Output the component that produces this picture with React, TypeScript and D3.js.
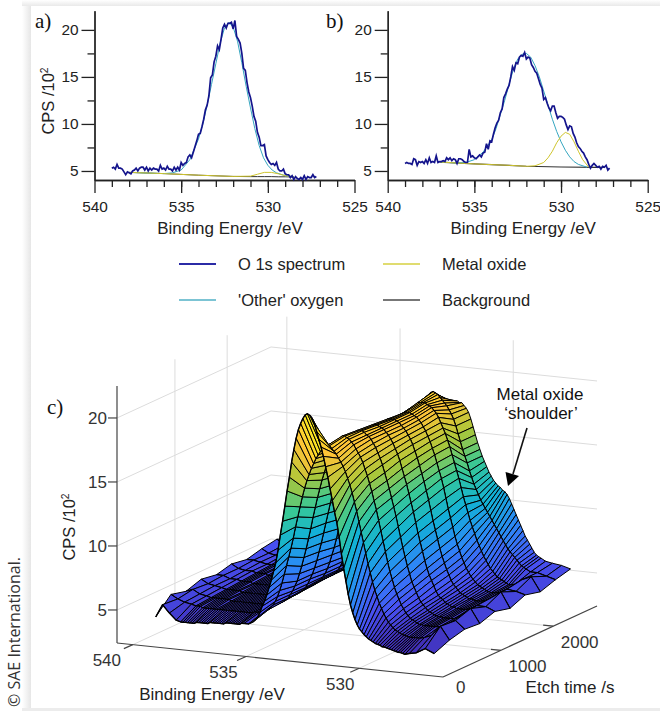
import * as d3 from "d3";
import { useEffect, useRef } from "react";

// spectra are read every 0.1 eV from 539.0 down to 527.2
const spectrumEnergy = d3.range(119).map((i) => +(539 - i * 0.1).toFixed(1));
const spectrumA = [
  5.3,5.4,5.2,5.7,5.3,5.3,5.2,4.9,4.6,4.9, 4.8,4.7,5.0,5.1,5.3,5.0,5.3,5.4,5.4,5.1,
  5.4,5.0,5.3,5.1,5.3,5.2,5.2,5.0,5.6,5.2, 5.3,5.1,5.5,5.2,5.2,5.0,5.4,5.1,5.4,5.1,
  5.9,5.6,5.8,5.9,6.5,6.7,6.4,7.0,7.6,8.2, 8.9,9.0,9.7,10.5,11.5,12.0,13.0,14.9,15.2,16.6,
  17.2,18.3,17.9,19.0,20.2,20.6,20.2,20.7,20.7,20.8, 20.1,21.0,19.3,19.0,18.6,17.5,15.9,15.7,14.4,13.4,
  12.8,11.9,10.8,10.3,9.1,8.6,7.7,7.7,7.8,6.6, 6.2,5.9,5.7,5.8,5.6,5.9,5.2,5.0,5.0,5.2,
  4.7,4.6,4.6,4.3,4.5,4.1,4.4,4.2,4.1,4.3, 4.1,4.5,4.1,4.4,4.3,4.3,4.6,4.3,4.4,
];
const spectrumB = [
  5.8,5.9,5.8,5.8,5.7,6.3,6.2,5.6,6.0,5.9, 6.0,5.8,6.2,5.8,6.4,5.9,6.0,5.9,6.6,5.9,
  6.0,6.0,6.1,6.0,6.4,6.2,6.4,6.1,6.3,6.2, 5.8,6.3,6.3,6.2,6.0,5.9,5.9,7.3,6.5,6.6,
  6.4,6.3,6.5,6.7,6.5,6.9,7.0,7.9,7.3,8.2, 8.1,8.9,9.6,10.1,10.4,11.2,11.6,12.8,13.2,13.7,
  14.1,15.0,16.1,15.7,16.5,16.4,17.1,17.3,17.2,17.6, 16.9,17.1,17.0,16.3,16.0,15.6,15.4,14.8,14.2,13.8,
  12.6,12.8,12.2,11.7,11.4,11.9,11.9,11.2,10.6,10.8, 10.8,10.7,10.5,9.9,9.4,9.8,9.7,9.0,8.6,8.0,
  7.6,7.4,7.1,6.9,6.5,6.2,5.7,5.3,5.6,5.8, 5.6,5.4,5.5,5.2,5.5,5.4,5.6,5.1,5.3,
];

const fitEnergyA = [538,537,536,535.5,535,534.5,534,533.75,533.5,533.25,533,532.75,532.5,532.25,532,531.75,531.5,531.25,531,530.75,530.5,530.25,530,529.75,529.5,529,528.5];
const otherA = [4.85,4.78,4.72,4.8,5.1,6.2,8.4,10,12,14.2,16.4,18.6,20.2,20.8,20.3,18.8,16.5,14,11.7,9.5,7.7,6.4,5.6,5.1,4.8,4.5,4.4];
const oxideEnergyA = [538,536,534,532,531,530.6,530.2,529.8,529.4,529,528.5];
const oxideA = [4.85,4.72,4.55,4.42,4.45,4.65,4.85,4.85,4.7,4.5,4.38];
const backgroundA = [4.85,4.72,4.55,4.42,4.4,4.4,4.4,4.4,4.38,4.38,4.36];

const fitEnergyB = [537,536,535.5,535,534.5,534,533.75,533.5,533.25,533,532.75,532.5,532.25,532,531.75,531.5,531.25,531,530.75,530.5,530.25,530,529.75,529.5,529.25,529,528.5];
const otherB = [5.95,5.85,5.9,6.2,7.0,8.3,9.5,11,12.5,14.2,15.8,16.9,17.4,17.5,17.1,16.2,15,13.5,12,10.5,9.2,8.1,7.2,6.5,6,5.7,5.4];
const oxideEnergyB = [537,535,533,532,531.5,531,530.75,530.5,530.25,530,529.75,529.5,529.25,529,528.75,528.4];
const oxideB = [5.95,5.75,5.6,5.5,5.55,5.9,6.4,7.1,8,8.7,9.1,8.9,8.1,7.1,6.2,5.4];
const backgroundEnergyB = [537,535,533,532,530,528,527.5];
const backgroundB = [5.95,5.75,5.6,5.5,5.42,5.38,5.38];

const legendItems = [
  { label: "O 1s spectrum", color: "#2b2ba6", col: 0, row: 0 },
  { label: "Metal oxide", color: "#e0dc70", col: 1, row: 0 },
  { label: "'Other' oxygen", color: "#7cc4d4", col: 0, row: 1 },
  { label: "Background", color: "#777777", col: 1, row: 1 },
];

// surface mesh: one profile per etch level, one value per energy column
const etchRows = [0, 290, 580, 870, 1160, 1450, 1740, 2030, 2320, 2610];
const beColumns = [
  539.0,538.7,538.4,538.1,
  537.9,537.8,537.7,537.6,537.5,537.4,537.3,537.2,537.1,537.0,
  536.9,536.8,536.7,536.6,536.5,536.4,536.3,536.2,536.1,536.0,
  535.9,535.8,535.7,535.6,535.5,535.4,535.3,535.2,535.1,
  534.9,534.7,534.5,
  534.4,534.3,534.2,534.1,534.0,
  533.9,533.8,533.7,533.6,533.5,533.4,533.3,533.2,533.1,533.0,
  532.9,532.8,532.7,532.6,532.5,532.4,532.3,532.2,532.1,532.0,
  531.9,531.8,531.7,531.6,531.5,531.4,531.3,531.2,531.1,531.0,
  530.9,530.8,530.7,530.6,530.5,530.4,530.3,530.2,530.1,530.0,
  529.9,529.8,529.7,529.6,529.5,529.4,529.3,529.2,529.1,529.0,
  528.9,528.8,528.7,528.6,528.5,528.4,528.3,528.2,528.1,528.0,
  527.8,527.5,527.1,526.7,
];
const etch0 = [
  4.8,5.8,5.2,4.7,
  4.6,4.6,4.6,4.6,4.6,4.6,4.6,4.7,4.7,4.7,4.7,4.7,4.7,4.8,4.8,4.8,4.8,4.8,4.8,4.8,4.9,4.9,4.9,4.9,4.9,4.9,4.9,5.0,5.0,
  5.0,5.2,5.6,
  6.0,6.5,6.9,7.4,8.0,
  8.6,9.3,10.0,11.0,12.2,13.3,14.5,15.7,16.8,18.0,
  19.0,19.9,20.6,21.1,21.5,21.8,21.9,21.8,21.6,21.2,
  20.6,20.0,19.4,18.7,17.9,17.1,16.2,15.3,14.4,13.6,
  12.5,11.2,10.1,9.1,8.1,7.3,6.7,6.2,5.8,5.5,
  5.3,5.1,4.95,4.8,4.7,4.6,4.5,4.45,4.4,4.3,
  4.3,4.25,4.2,4.15,4.1,4.05,4.0,4.0,3.95,3.9,
  4.0,4.1,4.5,4.2,
];
const etch290 = [
  6.0,5.7,5.5,5.4,
  5.3,5.3,5.3,5.2,5.2,5.2,5.2,5.2,5.2,5.2,5.2,5.2,5.2,5.2,5.2,5.2,5.2,5.2,5.2,5.2,5.2,5.2,5.2,5.2,5.2,5.2,5.3,5.3,5.3,
  5.4,5.6,6.0,
  6.3,6.7,7.2,7.8,8.5,
  9.2,9.9,10.6,11.4,12.3,13.1,13.9,14.7,15.4,16.0,
  16.5,17.0,17.4,17.8,18.1,18.4,18.6,18.8,18.9,18.9,
  18.7,18.5,18.3,18.0,17.7,17.4,17.0,16.5,16.0,15.4,
  14.7,14.0,13.2,12.4,11.6,10.8,10.0,9.3,8.6,8.0,
  7.5,7.0,6.6,6.2,5.9,5.6,5.4,5.2,5.05,4.95,
  4.85,4.75,4.7,4.65,4.6,4.6,4.6,4.6,4.6,4.6,
  4.7,4.9,5.7,4.7,
];
const etch580 = [
  5.7,5.9,5.6,5.5,
  5.4,5.4,5.4,5.4,5.4,5.4,5.4,5.4,5.4,5.3,5.3,5.3,5.3,5.3,5.3,5.3,5.3,5.3,5.3,5.3,5.3,5.3,5.3,5.3,5.3,5.3,5.4,5.4,5.4,
  5.5,5.7,6.0,
  6.3,6.6,7.0,7.4,8.0,
  8.6,9.3,10.0,10.8,11.6,12.5,13.3,14.1,14.8,15.5,
  16.1,16.7,17.2,17.6,18.0,18.4,18.7,18.9,19.1,19.1,
  19.0,18.9,18.7,18.5,18.2,17.9,17.6,17.2,16.7,16.2,
  15.6,15.0,14.3,13.6,12.8,12.0,11.2,10.4,9.6,8.9,
  8.3,7.7,7.2,6.8,6.4,6.1,5.8,5.6,5.4,5.3,
  5.2,5.1,5.0,5.0,4.95,4.95,4.95,4.95,4.95,4.95,
  5.0,5.2,5.6,5.0,
];
const etch870 = [
  6.1,5.8,5.7,5.6,
  5.5,5.5,5.5,5.5,5.5,5.5,5.5,5.4,5.4,5.4,5.4,5.4,5.4,5.4,5.4,5.4,5.4,5.4,5.4,5.4,5.4,5.4,5.4,5.4,5.4,5.4,5.5,5.5,5.5,
  5.6,5.8,6.1,
  6.3,6.6,7.0,7.4,7.9,
  8.5,9.2,9.9,10.7,11.5,12.3,13.1,13.9,14.6,15.3,
  15.9,16.5,17.0,17.5,17.9,18.3,18.6,18.8,19.0,19.0,
  19.0,18.9,18.7,18.6,18.4,18.1,17.8,17.4,17.0,16.5,
  15.9,15.3,14.7,14.0,13.3,12.6,11.8,11.0,10.2,9.5,
  8.8,8.2,7.6,7.2,6.8,6.4,6.1,5.9,5.7,5.5,
  5.4,5.3,5.2,5.15,5.1,5.1,5.05,5.05,5.05,5.05,
  5.1,5.4,6.0,4.9,
];
const etch1160 = [
  5.9,5.9,5.7,5.7,
  5.6,5.6,5.6,5.6,5.6,5.5,5.5,5.5,5.5,5.5,5.5,5.5,5.5,5.5,5.5,5.5,5.5,5.5,5.5,5.5,5.5,5.5,5.5,5.5,5.5,5.5,5.6,5.6,5.6,
  5.7,5.9,6.2,
  6.4,6.6,6.9,7.3,7.8,
  8.4,9.0,9.7,10.5,11.3,12.1,12.9,13.7,14.4,15.1,
  15.7,16.3,16.9,17.4,17.8,18.2,18.5,18.7,18.9,18.9,
  18.9,18.8,18.7,18.6,18.4,18.2,17.9,17.6,17.2,16.8,
  16.3,15.7,15.1,14.5,13.8,13.1,12.4,11.6,10.8,10.1,
  9.4,8.7,8.1,7.6,7.2,6.8,6.4,6.1,5.9,5.8,
  5.6,5.5,5.4,5.3,5.3,5.2,5.2,5.2,5.2,5.2,
  5.3,5.6,5.6,5.3,
];
const etch1450 = [
  6.2,5.9,5.8,5.8,
  5.7,5.7,5.7,5.7,5.7,5.6,5.6,5.6,5.6,5.6,5.6,5.6,5.6,5.6,5.6,5.6,5.6,5.6,5.6,5.6,5.6,5.6,5.6,5.6,5.6,5.6,5.7,5.7,5.7,
  5.8,6.0,6.2,
  6.4,6.6,6.9,7.3,7.7,
  8.3,8.9,9.6,10.4,11.2,12.0,12.8,13.6,14.3,15.0,
  15.6,16.2,16.8,17.3,17.7,18.1,18.4,18.6,18.8,18.8,
  18.8,18.8,18.7,18.6,18.4,18.2,18.0,17.7,17.4,17.0,
  16.5,16.0,15.4,14.8,14.2,13.5,12.8,12.0,11.2,10.5,
  9.8,9.1,8.5,8.0,7.5,7.1,6.7,6.4,6.2,6.0,
  5.8,5.7,5.6,5.5,5.4,5.4,5.35,5.3,5.3,5.3,
  5.4,5.7,6.2,5.0,
];
const etch1740 = [
  6.0,6.0,5.9,5.8,
  5.8,5.8,5.8,5.7,5.7,5.7,5.7,5.7,5.7,5.7,5.7,5.7,5.7,5.7,5.7,5.7,5.7,5.7,5.7,5.7,5.7,5.7,5.7,5.7,5.7,5.7,5.8,5.8,5.8,
  5.9,6.0,6.3,
  6.4,6.6,6.9,7.2,7.6,
  8.1,8.7,9.4,10.2,11.0,11.8,12.6,13.4,14.2,14.9,
  15.6,16.2,16.8,17.3,17.7,18.1,18.4,18.6,18.7,18.8,
  18.8,18.8,18.7,18.6,18.5,18.3,18.1,17.8,17.5,17.1,
  16.7,16.2,15.7,15.1,14.5,13.9,13.2,12.4,11.6,10.9,
  10.2,9.5,8.9,8.4,7.9,7.5,7.1,6.8,6.5,6.3,
  6.1,5.9,5.8,5.7,5.6,5.5,5.45,5.4,5.4,5.4,
  5.5,5.8,5.7,5.5,
];
const etch2030 = [
  6.3,6.0,5.9,5.9,
  5.9,5.9,5.9,5.8,5.8,5.8,5.8,5.8,5.8,5.8,5.8,5.8,5.8,5.8,5.8,5.8,5.8,5.8,5.8,5.8,5.8,5.8,5.8,5.8,5.8,5.8,5.9,5.9,5.9,
  6.0,6.1,6.3,
  6.5,6.7,6.9,7.2,7.6,
  8.1,8.7,9.4,10.2,11.1,11.9,12.8,13.6,14.4,15.1,
  15.8,16.4,17.0,17.5,17.9,18.3,18.6,18.8,19.0,19.0,
  19.0,19.0,18.9,18.8,18.7,18.5,18.3,18.0,17.6,17.2,
  16.8,16.3,15.8,15.2,14.6,14.0,13.4,12.7,12.0,11.4,
  10.8,10.2,9.7,9.2,8.7,8.3,7.9,7.5,7.2,6.9,
  6.6,6.4,6.2,6.0,5.9,5.8,5.7,5.6,5.5,5.5,
  5.6,6.0,6.3,5.2,
];
const etch2320 = [
  6.5,6.1,6.0,6.0,
  6.0,5.9,5.9,5.9,5.9,5.9,5.9,5.9,5.9,5.9,5.9,5.9,5.9,5.9,5.9,5.9,5.9,5.9,5.9,5.9,5.9,5.9,5.9,5.9,5.9,5.9,6.0,6.0,6.0,
  6.1,6.2,6.4,
  6.6,6.8,7.0,7.3,7.7,
  8.2,8.8,9.6,10.4,11.3,12.2,13.0,13.9,14.7,15.4,
  16.1,16.8,17.4,17.9,18.4,18.7,19.0,19.2,19.3,19.2,
  19.1,18.9,18.7,18.5,18.3,18.0,17.7,17.3,16.8,16.2,
  15.6,15.0,14.5,14.0,13.4,12.9,12.4,12.0,11.6,11.2,
  10.9,10.6,10.3,10.0,9.7,9.4,9.1,8.8,8.5,8.2,
  7.9,7.6,7.4,7.2,7.0,6.8,6.6,6.4,6.3,6.2,
  6.0,6.0,5.8,5.6,
];
const etch2610 = [
  6.0,6.1,6.0,6.0,
  6.1,6.1,6.0,6.0,6.1,6.1,6.1,6.1,6.0,6.0,6.1,6.1,6.2,6.2,6.1,6.1,6.1,6.1,6.0,6.0,6.0,6.0,6.0,6.1,6.1,6.2,6.3,6.4,6.5,
  6.6,6.8,7.1,
  7.3,7.5,7.7,8.0,8.4,
  8.9,9.5,10.2,10.9,11.6,12.2,12.8,13.4,14.0,14.6,
  15.1,15.6,16.0,16.4,16.8,17.1,17.4,17.6,17.8,18.0,
  18.0,18.1,18.1,18.0,18.0,17.8,17.6,17.3,16.8,16.2,
  15.6,15.0,14.5,14.0,13.6,13.2,12.8,12.5,12.2,12.0,
  11.8,11.7,11.5,11.4,11.2,10.9,10.5,10.1,9.7,9.3,
  8.9,8.5,8.1,7.8,7.5,7.2,6.9,6.7,6.6,6.5,
  6.3,6.2,6.1,5.9,
];
const surfaceRows = [etch0, etch290, etch580, etch870, etch1160, etch1450, etch1740, etch2030, etch2320, etch2610];

const zTicks = [5, 10, 15, 20];
const beTicks = [540, 535, 530];
const etchTicks = [0, 1000, 2000];
const parula = ["#3e26a8", "#4852f4", "#2d87f7", "#12b1d6", "#37c897", "#abc739", "#fec338", "#f9fb15"];

const sans = "Liberation Sans";
const inkText = "#222";

// draws one of the two small spectra
function drawPanel(svg: any, left: number, spectrum: number[], fits: { be: number[]; cps: number[]; color: string; width: number }[]) {
  const x = d3.scaleLinear().domain([540, 525]).range([left, left + 260]);
  const y = d3.scaleLinear().domain([4.04, 22.04]).range([180, 10.7]);
  const g = svg.append("g");

  const axisStyle = (a: any) => {
    a.selectAll("path,line").attr("stroke", "#222").attr("stroke-width", 1.3);
    a.selectAll("text").attr("fill", inkText).style("font", `15.4px '${sans}'`);
  };

  g.append("g").attr("transform", "translate(0,180)")
    .call(d3.axisBottom(x).tickValues(d3.range(539, 525, -1)).tickSize(7).tickFormat(() => "").tickSizeOuter(0))
    .call(axisStyle);
  g.append("g").attr("transform", "translate(0,180)")
    .call(d3.axisBottom(x).tickValues([540, 535, 530, 525]).tickSize(13).tickPadding(8).tickSizeOuter(0))
    .call(axisStyle);
  g.append("g").attr("transform", `translate(${left},0)`)
    .call(d3.axisLeft(y).tickValues([7.5, 12.5, 17.5]).tickSize(7).tickFormat(() => "").tickSizeOuter(0))
    .call(axisStyle);
  g.append("g").attr("transform", `translate(${left},0)`)
    .call(d3.axisLeft(y).tickValues(zTicks).tickSize(13).tickPadding(3).tickSizeOuter(0))
    .call(axisStyle);

  const line = d3.line<number>().x((_, i) => 0).y(() => 0);
  fits.forEach((f) => {
    line.x((_, i) => x(f.be[i])).y((d) => y(d));
    g.append("path").attr("d", line(f.cps)).attr("fill", "none").attr("stroke", f.color).attr("stroke-width", f.width);
  });
  line.x((_, i) => x(spectrumEnergy[i])).y((d) => y(d));
  g.append("path").attr("d", line(spectrum)).attr("fill", "none").attr("stroke", "#14148c").attr("stroke-width", 1.7);

  g.append("text").attr("x", left + 135.5).attr("y", 234).attr("text-anchor", "middle")
    .attr("fill", inkText).style("font", `17px '${sans}'`).text("Binding Energy /eV");
}

export default function App() {
  const ref = useRef<SVGSVGElement>(null);

  useEffect(() => {
    const svg = d3.select(ref.current);
    svg.selectAll("*").remove();

    // page frame around the figure
    const defs = svg.append("defs");
    const leftShade = defs.append("linearGradient").attr("id", "leftShade");
    leftShade.append("stop").attr("offset", "0").attr("stop-color", "#fff");
    leftShade.append("stop").attr("offset", "1").attr("stop-color", "#e6e6e6");
    const topShade = defs.append("linearGradient").attr("id", "topShade").attr("x2", 0).attr("y2", 1);
    topShade.append("stop").attr("offset", "0").attr("stop-color", "#fff");
    topShade.append("stop").attr("offset", "1").attr("stop-color", "#e9e9e9");
    svg.append("rect").attr("width", 660).attr("height", 711).attr("fill", "#fff");
    svg.append("rect").attr("x", 22).attr("y", 0).attr("width", 9).attr("height", 711).attr("fill", "url(#leftShade)");
    svg.append("rect").attr("x", 22).attr("y", 0).attr("width", 638).attr("height", 6).attr("fill", "url(#topShade)");
    svg.append("rect").attr("x", 22).attr("y", 708).attr("width", 638).attr("height", 3).attr("fill", "#ececec");

    drawPanel(svg, 94.5, spectrumA, [
      { be: oxideEnergyA, cps: backgroundA, color: "#333", width: 1 },
      { be: fitEnergyA, cps: otherA, color: "#35a6c0", width: 1 },
      { be: oxideEnergyA, cps: oxideA, color: "#cfc52e", width: 1 },
    ]);
    drawPanel(svg, 387.7, spectrumB, [
      { be: backgroundEnergyB, cps: backgroundB, color: "#333", width: 1.2 },
      { be: fitEnergyB, cps: otherB, color: "#35a6c0", width: 1 },
      { be: oxideEnergyB, cps: oxideB, color: "#cfc52e", width: 1 },
    ]);

    const serifLabel = (x: number, y: number, t: string) =>
      svg.append("text").attr("x", x).attr("y", y).attr("fill", "#111")
        .style("font", "21px 'Liberation Serif'").text(t);
    serifLabel(35, 28, "a)");
    serifLabel(326, 28, "b)");
    serifLabel(47, 414, "c)");

    const cpsLabel = (x: number, y: number, size: number) => {
      const t = svg.append("text").attr("transform", `translate(${x},${y}) rotate(-90)`)
        .attr("text-anchor", "middle").attr("fill", inkText).style("font", `${size}px '${sans}'`);
      t.append("tspan").text("CPS /10");
      t.append("tspan").attr("dy", -6).style("font-size", `${size * 0.62}px`).text("2");
    };
    cpsLabel(54, 101, 16.5);

    // legend
    legendItems.forEach((d) => {
      const lx = d.col === 0 ? 179 : 383;
      const ly = d.row === 0 ? 264 : 300;
      svg.append("line").attr("x1", lx).attr("x2", lx + 37).attr("y1", ly).attr("y2", ly)
        .attr("stroke", d.color).attr("stroke-width", d.row === 0 && d.col === 0 ? 2 : 1.8);
      svg.append("text").attr("x", d.col === 0 ? 238 : 442).attr("y", ly + 6).attr("fill", inkText)
        .style("font", `16.5px '${sans}'`).text(d.label);
    });

    // 3D box: the three axes meet their scales here, project() adds them up
    const beX = d3.scaleLinear().domain([540.7, 526.3]).range([0, 326]);
    const beY = d3.scaleLinear().domain([540.7, 526.3]).range([0, 34]);
    const etchX = d3.scaleLinear().domain([-110, 2840]).range([0, 154]);
    const etchY = d3.scaleLinear().domain([-110, 2840]).range([0, -71]);
    const cpsY = d3.scaleLinear().domain([2.42, 22.42]).range([0, -256]);
    const project = (be: number, t: number, z: number): [number, number] => [
      117 + beX(be) + etchX(t),
      643 + beY(be) + etchY(t) + cpsY(z),
    ];

    const beMax = 540.7, beMin = 526.3, tMin = -110, tMax = 2840, zMin = 2.42, zTop = 22.5;
    const grid = svg.append("g").attr("fill", "none").attr("stroke", "#dcdcdc").attr("stroke-width", 1);
    const seg = (g: any, a: [number, number], b: [number, number]) =>
      g.append("line").attr("x1", a[0]).attr("y1", a[1]).attr("x2", b[0]).attr("y2", b[1]);

    zTicks.forEach((z) => {
      seg(grid, project(beMax, tMin, z), project(beMax, tMax, z));
      seg(grid, project(beMax, tMax, z), project(beMin, tMax, z));
    });
    beTicks.forEach((b) => {
      seg(grid, project(b, tMin, zMin), project(b, tMax, zMin));
      seg(grid, project(b, tMax, zMin), project(b, tMax, zTop));
    });
    [1000, 2000].forEach((t) => {
      seg(grid, project(beMin, t, zMin), project(beMax, t, zMin));
      seg(grid, project(beMax, t, zMin), project(beMax, t, zTop));
    });

    // surface, painted from the far etch row and the high energy side forward
    const color = d3.scaleLinear<string>()
      .domain(parula.map((_, i) => 3.9 + (i * (21 - 3.9)) / (parula.length - 1)))
      .range(parula);
    const poly = d3.line().curve(d3.curveLinearClosed);
    const open = d3.line();
    const surface = svg.append("g").attr("stroke", "#000").attr("stroke-width", 1).attr("stroke-linejoin", "round");
    const axisOffset = 0.24; // mesh sits this far from the box front
    const lift = 0.27;
    const pt = (r: number, c: number) =>
      project(beColumns[c] + axisOffset, etchRows[r], surfaceRows[r][c] - lift);

    for (let r = etchRows.length - 2; r >= 0; r--) {
      for (let c = 0; c < beColumns.length - 1; c++) {
        const mean = d3.mean([surfaceRows[r][c], surfaceRows[r][c + 1], surfaceRows[r + 1][c], surfaceRows[r + 1][c + 1]]) as number;
        surface.append("path")
          .attr("d", poly([pt(r, c), pt(r, c + 1), pt(r + 1, c + 1), pt(r + 1, c)]))
          .attr("fill", color(mean));
      }
      // etch levels read heavier than the energy lines
      surface.append("path")
        .attr("d", open(beColumns.map((_, c) => pt(r, c))))
        .attr("fill", "none").attr("stroke-width", 1.4);
    }

    // axes of the box
    const axes = svg.append("g").attr("stroke", "#444").attr("stroke-width", 1.2).attr("fill", "none");
    seg(axes, project(beMax, tMin, zMin), project(beMax, tMin, zTop));
    seg(axes, project(beMax, tMin, zMin), project(beMin, tMin, zMin));
    seg(axes, project(beMin, tMin, zMin), project(beMin, tMax, zMin));

    const tickText = (x: number, y: number, t: string, anchor = "middle") =>
      svg.append("text").attr("x", x).attr("y", y).attr("text-anchor", anchor).attr("fill", "#333")
        .style("font", `17px '${sans}'`).text(t);

    zTicks.forEach((z) => {
      const p = project(beMax, tMin, z);
      seg(axes, p, [p[0] - 9, p[1]]);
      tickText(p[0] - 10, p[1] + 6, String(z), "end");
    });
    beTicks.forEach((b) => {
      const p = project(b, tMin, zMin);
      seg(axes, p, [p[0] - 9, p[1] + 4]);
      tickText(p[0] - 26 + (540 - b) * 0.7, p[1] + 21.5, String(b));
    });
    etchTicks.forEach((t) => {
      const p = project(beMin, t, zMin);
      if (t > 0) seg(axes, p, [p[0] - 10, p[1] - 1]);
      tickText(p[0] + (t > 0 ? 26.5 : 12), p[1] + (t > 0 ? 21.5 : 19), String(t));
    });

    svg.append("text").attr("x", 212).attr("y", 700).attr("text-anchor", "middle").attr("fill", inkText)
      .style("font", `17px '${sans}'`).text("Binding Energy /eV");
    svg.append("text").attr("x", 570).attr("y", 693).attr("text-anchor", "middle").attr("fill", inkText)
      .style("font", `17px '${sans}'`).text("Etch time /s");
    cpsLabel(75, 527, 16.5);

    // shoulder annotation
    const note = svg.append("g").attr("text-anchor", "middle").attr("fill", "#111").style("font", `17px '${sans}'`);
    note.append("text").attr("x", 540).attr("y", 400).text("Metal oxide");
    note.append("text").attr("x", 541).attr("y", 419).text("‘shoulder’");
    svg.append("line").attr("x1", 527).attr("y1", 428).attr("x2", 513).attr("y2", 474).attr("stroke", "#111").attr("stroke-width", 1.6);
    svg.append("path").attr("d", d3.line()([[508, 486], [505.5, 472], [519, 476]]) + "Z").attr("fill", "#000");

    svg.append("text").attr("transform", "translate(20,707) rotate(-90)").attr("fill", "#333")
      .style("font", "16px 'Open Sans'").text("© SAE International.");
  }, []);

  return <svg ref={ref} width={660} height={711} style={{ position: "absolute", left: 0, top: 0 }} />;
}
